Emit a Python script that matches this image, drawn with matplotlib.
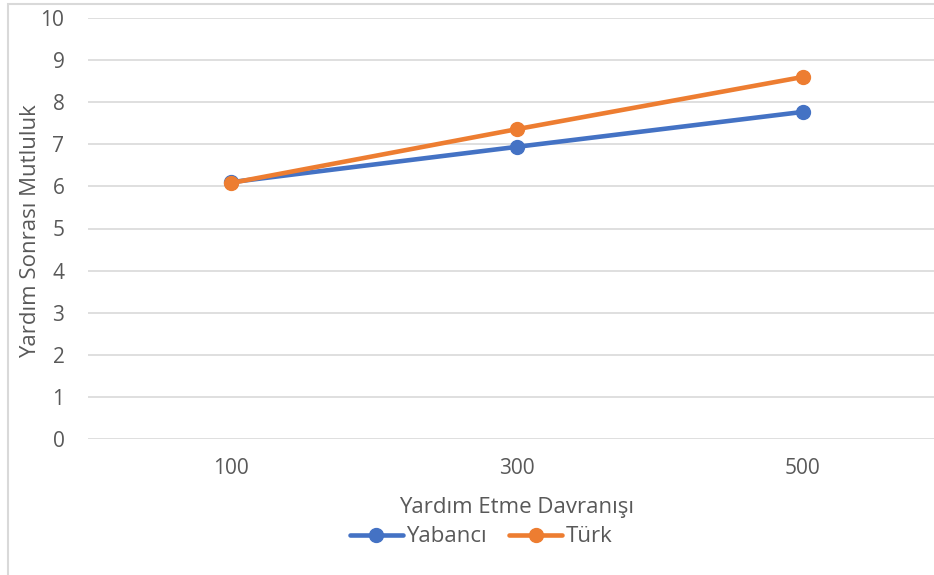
import numpy as np
import matplotlib.pyplot as plt
from matplotlib.patches import Rectangle

# Veriler
categories = ['100', '300', '500']
yabanci = [6.10, 6.94, 7.77]
turk = [6.08, 7.36, 8.60]

plt.rcParams['font.family'] = ['Open Sans', 'DejaVu Sans']
gray = '#595959'

fig = plt.figure(figsize=(9.34, 5.75), dpi=100)
W, H = 934, 575
# eksen alanı (sağ kenar resim dışına taşıyor)
ax = fig.add_axes([88 / W, 1 - 439 / H, (946 - 88) / W, (439 - 18) / H])

x = np.arange(len(categories))
ax.plot(x, yabanci, color='#4472C4', lw=3.3, marker='o', ms=10, label='Yabancı',
        solid_capstyle='round', zorder=3)
ax.plot(x, turk, color='#ED7D31', lw=3.3, marker='o', ms=10, label='Türk',
        solid_capstyle='round', zorder=4)

ax.set_xlim(-0.5, 2.5)
ax.set_ylim(0, 10)
ax.set_yticks(range(0, 11))
ax.set_xticks(x)
ax.set_xticklabels(categories)
ax.grid(axis='y', color='#d9d9d9', lw=1.2)
ax.set_axisbelow(True)
for s in ax.spines.values():
    s.set_visible(False)
ax.tick_params(length=0, colors=gray, labelsize=15)
ax.tick_params(axis='y', pad=17)
ax.tick_params(axis='x', pad=14)

fig.text(31 / W, 1 - 231 / H, 'Yardım Sonrası Mutluluk', rotation=90, ha='center',
         va='center', color=gray, fontsize=16)
fig.text(517 / W, 1 - 507 / H, 'Yardım Etme Davranışı', ha='center', va='center',
         color=gray, fontsize=16)

leg = fig.legend(loc='center', bbox_to_anchor=(481 / W, 1 - 537 / H), ncol=2,
                 frameon=False, fontsize=16, handlelength=2.4, columnspacing=1.0,
                 handletextpad=0.15, borderpad=0)
for t in leg.get_texts():
    t.set_color(gray)

# dış çerçeve
fig.patches.append(Rectangle((8 / W, -0.1), 2, 1.1 - 4 / H, transform=fig.transFigure,
                             fill=False, ec='#d9d9d9', lw=1.5))

fig.savefig('out.png', dpi=100)
